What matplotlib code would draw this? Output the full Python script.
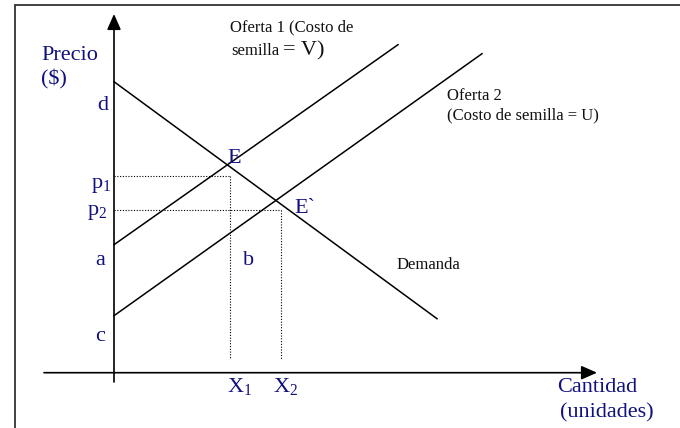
import matplotlib
matplotlib.use("Agg")
import matplotlib.pyplot as plt
from matplotlib.patches import Rectangle

# curves (quantity, price) in diagram units
demand_q = [0.0, 32.3]
demand_p = [29.1, 5.4]
supply1_q = [0.0, 28.4]
supply1_p = [12.8, 32.8]
supply2_q = [0.0, 36.8]
supply2_p = [5.7, 31.9]

# equilibrium guide values
p1, p2 = 19.65, 16.27
x1, x2 = 11.6, 16.7
guide_bottom = 1.37

# axis extents
x_axis = [-7.0, 48.3]
y_axis = [-0.93, 35.87]

navy = "#10107f"
plt.rcParams['font.family'] = ['Liberation Serif', 'DejaVu Serif']
plt.rcParams['mathtext.fontset'] = 'custom'
plt.rcParams['mathtext.rm'] = 'Liberation Serif'

fig = plt.figure(figsize=(6.8, 4.28), dpi=100)
ax = fig.add_axes([0, 0, 1, 1])
ax.set_xlim(-11.4, 56.6)
ax.set_ylim(-5.53, 37.27)
ax.axis('off')

# frame around the drawing (only top and left visible)
fig.add_artist(Rectangle((15 / 680, -0.1), 2, 1 - 5 / 428 + 0.1, transform=fig.transFigure,
                         fill=False, edgecolor='#333333', lw=1.3))

# axes with arrow heads
arrow = dict(arrowstyle='-|>,head_length=0.95,head_width=0.42', color='black', lw=1.2,
             shrinkA=0, shrinkB=0, mutation_scale=10)
ax.annotate('', xy=(x_axis[1], 0), xytext=(x_axis[0], 0), arrowprops=arrow)
ax.annotate('', xy=(0, y_axis[1]), xytext=(0, y_axis[0]), arrowprops=arrow)

# demand and supply curves
ax.plot(demand_q, demand_p, color='black', lw=1.1)
ax.plot(supply1_q, supply1_p, color='black', lw=1.1)
ax.plot(supply2_q, supply2_p, color='black', lw=1.1)

# dotted guides
dot = dict(color='black', lw=0.8, ls=(0, (1, 1.5)))
ax.plot([0, x1], [p1, p1], **dot)
ax.plot([x1, x1], [p1, guide_bottom], **dot)
ax.plot([0, x2], [p2, p2], **dot)
ax.plot([x2, x2], [p2, guide_bottom], **dot)

big = dict(fontsize=16, color=navy, va='baseline', ha='left')
small = dict(fontsize=12, color='#111111', va='baseline', ha='left')

ax.text(-7.3, 31.27, 'Precio', **big)
ax.text(-7.3, 28.87, '($)', **big)
ax.text(-1.7, 26.27, 'd', **big)
ax.text(-2.33, 18.47, r'p$_\mathregular{1}$', **big)
ax.text(-2.73, 15.77, r'p$_\mathregular{2}$', **big)
ax.text(-1.9, 10.8, 'a', **big)
ax.text(-1.9, 3.17, 'c', **big)
ax.text(11.3, 20.97, 'E', **big)
ax.text(18.0, 16.0, 'E`', **big)
ax.text(12.87, 10.8, 'b', **big)
ax.text(11.27, -1.93, r'X$_\mathregular{1}$', **big)
ax.text(15.87, -1.93, r'X$_\mathregular{2}$', **big)
ax.text(44.3, -1.93, 'Cantidad', **big)
ax.text(44.6, -4.43, '(unidades)', **big)

ax.text(28.3, 10.37, 'Demanda', **small)
ax.text(33.3, 27.27, 'Oferta 2', **small)
ax.text(33.3, 25.37, '(Costo de semilla = U)', **small)
ax.text(11.6, 34.17, 'Oferta 1 (Costo de', **small)
ax.text(11.77, 31.77, 'semilla', **small)
ax.text(16.9, 31.77, '= V)', fontsize=16, color='#111111', va='baseline', ha='left')

fig.savefig('out.png', dpi=100)
